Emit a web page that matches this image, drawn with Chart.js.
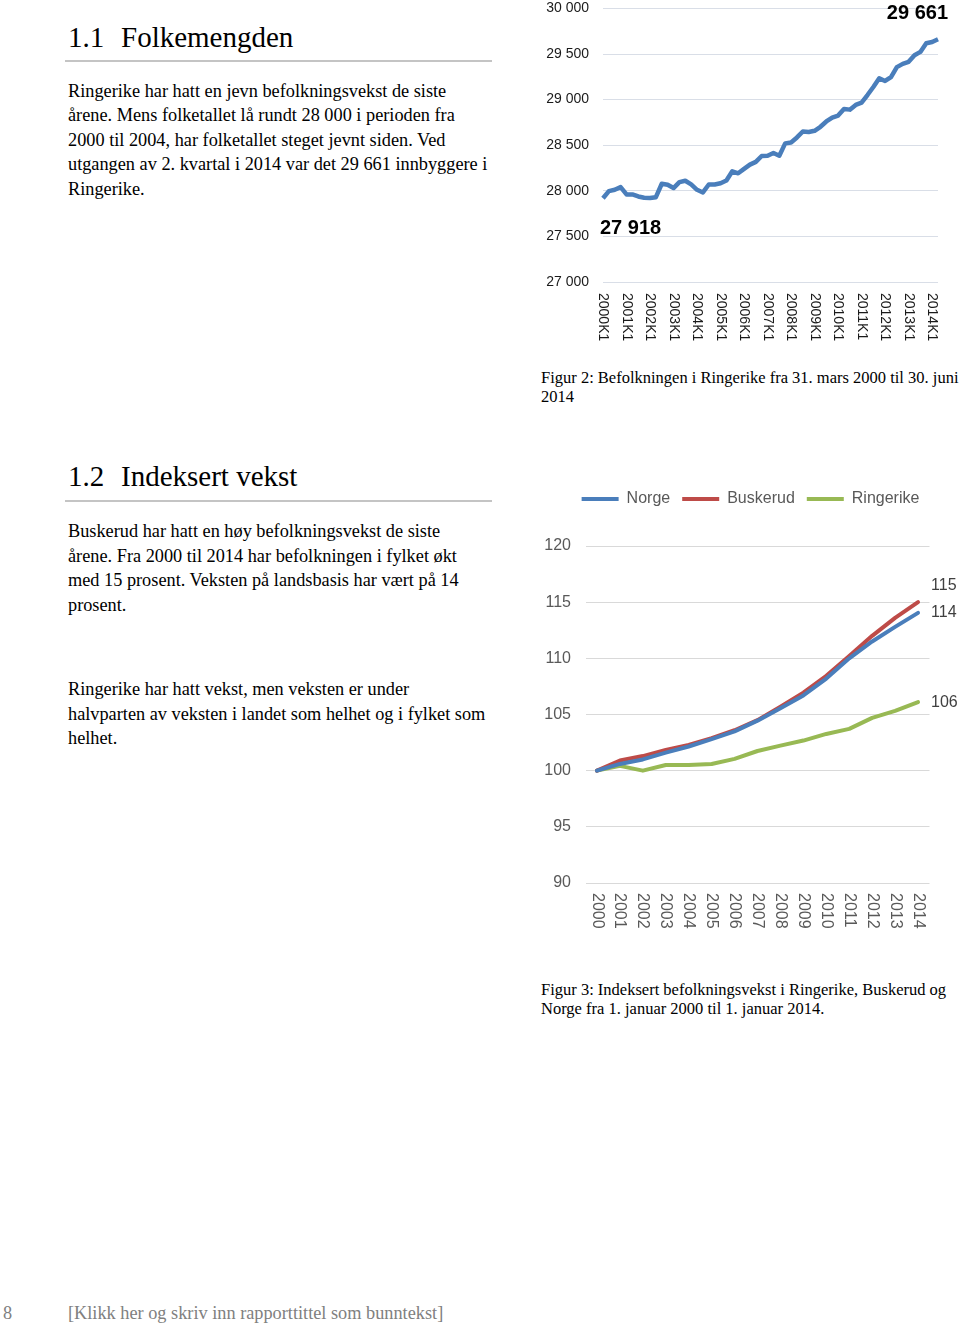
<!DOCTYPE html>
<html>
<head>
<meta charset="utf-8">
<script src="https://cdn.jsdelivr.net/npm/chart.js@4/dist/chart.umd.min.js"></script>
<style>
  body { margin: 0; background: #fff; }
  #page { position: relative; width: 960px; height: 1324px; overflow: hidden; font-family: "Liberation Serif", "Times New Roman", serif; color: #000; }
  .h { position: absolute; font-size: 29px; line-height: 29px; white-space: nowrap; }
  .p { position: absolute; left: 68px; font-size: 18.3px; line-height: 24.5px; white-space: nowrap; }
  .cap { position: absolute; left: 541px; font-size: 16.5px; line-height: 19px; white-space: nowrap; }
  .rule { position: absolute; left: 65px; width: 427px; height: 2px; background: #c4c4c4; }
  .foot { position: absolute; font-size: 18.3px; line-height: 20px; color: #808080; white-space: nowrap; }
  canvas { position: absolute; }
</style>
</head>
<body>
<div id="page">
  <div class="h" style="left:68px; top:22.7px">1.1</div>
  <div class="h" style="left:121px; top:22.7px">Folkemengden</div>
  <div class="rule" style="top:60px"></div>
  <div class="p" style="top:78.5px">Ringerike har hatt en jevn befolkningsvekst de siste<br>årene. Mens folketallet lå rundt 28 000 i perioden fra<br>2000 til 2004, har folketallet steget jevnt siden. Ved<br>utgangen av 2. kvartal i 2014 var det 29 661 innbyggere i<br>Ringerike.</div>

  <canvas id="chart1" width="430" height="364" style="left:530px; top:-14px"></canvas>
  <div class="cap" style="top:368px">Figur 2: Befolkningen i Ringerike fra 31. mars 2000 til 30. juni<br>2014</div>

  <div class="h" style="left:68px; top:462.2px">1.2</div>
  <div class="h" style="left:121px; top:462.2px">Indeksert vekst</div>
  <div class="rule" style="top:500px"></div>
  <div class="p" style="top:519px">Buskerud har hatt en høy befolkningsvekst de siste<br>årene. Fra 2000 til 2014 har befolkningen i fylket økt<br>med 15 prosent. Veksten på landsbasis har vært på 14<br>prosent.</div>
  <div class="p" style="top:677.2px">Ringerike har hatt vekst, men veksten er under<br>halvparten av veksten i landet som helhet og i fylket som<br>helhet.</div>

  <canvas id="chart2" width="419" height="461" style="left:541px; top:479px"></canvas>
  <div class="cap" style="top:980px">Figur 3: Indeksert befolkningsvekst i Ringerike, Buskerud og<br>Norge fra 1. januar 2000 til 1. januar 2014.</div>

  <div class="foot" style="left:3px; top:1303px">8</div>
  <div class="foot" style="left:68px; top:1303px">[Klikk her og skriv inn rapporttittel som bunntekst]</div>
</div>

<script>
// Figur 2: folkemengde per kvartal, 2000K1 - 2014K2
var quarters = [];
for (var yr = 2000; yr <= 2014; yr++) {
  for (var q = 1; q <= 4; q++) {
    if (yr == 2014 && q > 2) break;
    quarters.push(yr + 'K' + q);
  }
}
var population = [
  27918, 27996, 28011, 28040, 27960, 27960, 27938, 27924,
  27920, 27930, 28077, 28066, 28030, 28095, 28110, 28070,
  28011, 27982, 28069, 28069, 28083, 28113, 28214, 28192,
  28240, 28287, 28317, 28382, 28385, 28415, 28385, 28520,
  28530, 28585, 28650, 28645, 28658, 28702, 28760, 28803,
  28825, 28898, 28890, 28942, 28967, 29050, 29138, 29233,
  29204, 29247, 29356, 29392, 29414, 29487, 29523, 29618,
  29632, 29661
];

// Figur 3: indeksert vekst (2000 = 100)
var years = ['2000','2001','2002','2003','2004','2005','2006','2007','2008','2009','2010','2011','2012','2013','2014'];
var norge     = [100, 100.6, 101.0, 101.6, 102.15, 102.8, 103.5, 104.45, 105.55, 106.7, 108.2, 110.0, 111.5, 112.8, 114.05];
var buskerud  = [100, 100.9, 101.3, 101.85, 102.3, 102.9, 103.6, 104.5, 105.7, 106.95, 108.45, 110.2, 112.0, 113.6, 115.0];
var ringerike = [100, 100.43, 100.0, 100.5, 100.5, 100.6, 101.05, 101.75, 102.23, 102.68, 103.27, 103.72, 104.7, 105.32, 106.1];

function fmt(v) {
  return String(v).replace(/\B(?=(\d{3})+(?!\d))/g, ' ');
}

// x labels turned 90 degrees clockwise (top to bottom)
var vertLabels = {
  id: 'vertLabels',
  afterDraw: function(chart, args, opts) {
    var sc = chart.scales.x;
    var ctx = chart.ctx;
    ctx.save();
    ctx.font = opts.font;
    ctx.fillStyle = opts.color;
    ctx.textAlign = 'left';
    ctx.textBaseline = 'middle';
    chart.data.labels.forEach(function(lab, i) {
      if (opts.only && lab.indexOf(opts.only) < 0) return;
      var x = sc.getPixelForValue(i);
      ctx.save();
      ctx.translate(x, sc.top + opts.pad);
      ctx.rotate(Math.PI / 2);
      ctx.fillText(lab, 0, 0);
      ctx.restore();
    });
    ctx.restore();
  }
};

// labels at chosen points
var pointLabels = {
  id: 'pointLabels',
  afterDatasetsDraw: function(chart, args, opts) {
    var ctx = chart.ctx;
    ctx.save();
    ctx.font = opts.font;
    ctx.fillStyle = opts.color;
    ctx.textBaseline = 'middle';
    opts.items.forEach(function(it) {
      var meta = chart.getDatasetMeta(it.ds);
      var idx = it.idx < 0 ? meta.data.length - 1 : it.idx;
      var pt = meta.data[idx];
      var val = chart.data.datasets[it.ds].data[idx];
      ctx.textAlign = it.align;
      ctx.fillText(it.round ? fmt(Math.round(val)) : fmt(val), pt.x + it.dx, pt.y + it.dy);
    });
    ctx.restore();
  }
};

new Chart(document.getElementById('chart1'), {
  type: 'line',
  data: {
    labels: quarters,
    datasets: [{
      data: population,
      borderColor: '#4a7ebb',
      borderWidth: 4.5,
      pointRadius: 0,
      tension: 0,
      borderJoinStyle: 'round',
      fill: false
    }]
  },
  options: {
    responsive: false,
    animation: false,
    layout: { padding: { top: 0, right: 22, bottom: 0, left: 0 } },
    scales: {
      x: {
        ticks: { display: false },
        grid: { display: false },
        border: { display: false },
        afterFit: function(s) { s.height = 68; }
      },
      y: {
        min: 27000,
        max: 30000,
        ticks: {
          stepSize: 500,
          padding: 14,
          color: '#1a1a1a',
          font: { family: 'Liberation Sans, Arial', size: 14 },
          callback: function(v) { return fmt(v); }
        },
        grid: { color: '#d9dee7', lineWidth: 1, drawTicks: false },
        border: { display: false },
        afterFit: function(s) { s.width = 73; }
      }
    },
    plugins: {
      legend: { display: false },
      tooltip: { enabled: false },
      vertLabels: { font: '14px "Liberation Sans", Arial', color: '#1a1a1a', pad: 11, only: 'K1' },
      pointLabels: {
        font: 'bold 20px "Liberation Sans", Arial',
        color: '#000',
        items: [
          { ds: 0, idx: 0, dx: -3, dy: 30, align: 'left' },
          { ds: 0, idx: -1, dx: 10, dy: -26, align: 'right' }
        ]
      }
    }
  },
  plugins: [vertLabels, pointLabels]
});

new Chart(document.getElementById('chart2'), {
  type: 'line',
  data: {
    labels: years,
    datasets: [
      { label: 'Norge', data: norge, borderColor: '#4a7ebb', backgroundColor: '#4a7ebb' },
      { label: 'Buskerud', data: buskerud, borderColor: '#be4b48', backgroundColor: '#be4b48' },
      { label: 'Ringerike', data: ringerike, borderColor: '#98b954', backgroundColor: '#98b954' }
    ].map(function(d) {
      d.borderWidth = 4;
      d.pointRadius = 0;
      d.tension = 0;
      d.fill = false;
      d.borderCapStyle = 'round';
      d.borderJoinStyle = 'round';
      return d;
    })
  },
  options: {
    responsive: false,
    animation: false,
    layout: { padding: 0 },
    scales: {
      x: {
        offset: true,
        ticks: { display: false },
        grid: { display: false },
        border: { display: false },
        afterFit: function(s) { s.height = 57; }
      },
      y: {
        min: 90,
        max: 120,
        ticks: {
          stepSize: 5,
          padding: 14.5,
          color: '#595959',
          font: { family: 'Liberation Sans, Arial', size: 16 }
        },
        grid: { color: '#d9d9d9', lineWidth: 1, drawTicks: false },
        border: { display: false },
        afterFit: function(s) { s.width = 44.5; }
      },
      // empty right-hand strip for the end labels
      yRight: {
        position: 'right',
        min: 90,
        max: 120,
        ticks: { display: false },
        grid: { display: false },
        border: { display: false },
        afterFit: function(s) { s.width = 30.5; }
      }
    },
    plugins: {
      legend: {
        position: 'top',
        labels: {
          usePointStyle: true,
          pointStyle: 'line',
          pointStyleWidth: 37,
          padding: 12,
          color: '#595959',
          font: { family: 'Liberation Sans, Arial', size: 16 }
        }
      },
      title: {
        display: true,
        text: '',
        weight: 500,
        fullSize: false,
        font: { size: 10 },
        padding: { top: 0, bottom: 17 }
      },
      tooltip: { enabled: false },
      vertLabels: { font: '16px "Liberation Sans", Arial', color: '#595959', pad: 10 },
      pointLabels: {
        font: '16px "Liberation Sans", Arial',
        color: '#404040',
        items: [
          { ds: 0, idx: -1, dx: 13, dy: 0, align: 'left', round: true },
          { ds: 1, idx: -1, dx: 13, dy: -17, align: 'left', round: true },
          { ds: 2, idx: -1, dx: 13, dy: 0, align: 'left', round: true }
        ]
      }
    }
  },
  plugins: [vertLabels, pointLabels]
});
</script>
</body>
</html>
